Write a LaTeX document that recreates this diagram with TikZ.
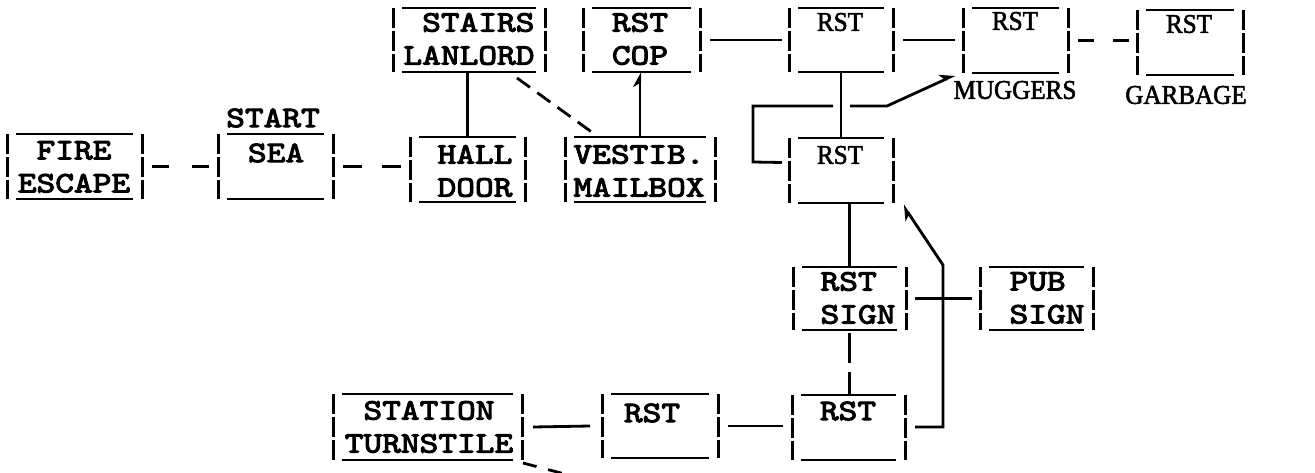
\documentclass[tikz,border=0pt]{standalone}
\usepackage{fontspec}
\newfontfamily\tw[FakeStretch=1.2,FakeBold=3.5]{lmmono10-regular.otf}
\newfontfamily\srf[FakeStretch=0.93,FakeBold=2]{Liberation Serif}
\usetikzlibrary{arrows.meta}
\newcommand\tbox[5]{\node[frame, minimum width={(#3-#2)*1pt}, minimum height={(#5-#4)*1pt}] (#1) at ({(#2+#3)/2},{(#4+#5)/2}) {};}
\begin{document}
\begin{tikzpicture}[x=1pt,y=-1pt,
  frame/.style={inner sep=0pt, outer sep=0pt, draw=none},
  hline/.style={line width=2.8pt},
  vbar/.style={line width=3pt, dash pattern=on 19.5pt off 3.5pt},
  conn/.style={line width=2.8pt},
  dconn/.style={line width=2.8pt, dash pattern=on 17pt off 23pt},
  tt/.style={font=\tw\fontsize{29.7}{33}\selectfont, inner sep=0pt},
  sf/.style={font=\srf\fontsize{27}{31}\selectfont, inner sep=0pt},
  barb/.style={-{Stealth[harpoon,length=13pt,width=14pt,inset=4pt]}},
  rbarb/.style={{Stealth[harpoon,length=13pt,width=14pt,inset=4pt]}-}
]
\useasboundingbox (0,0) rectangle (1315,472);

% boxes
\tbox{fire}{7}{142}{134}{199}
\tbox{sea}{218}{333}{134}{199}
\tbox{hall}{410}{525}{137}{202}
\tbox{vest}{565}{715}{137}{202}
\tbox{stairs}{393}{545}{8}{72}
\tbox{cop}{583}{700}{8}{72}
\tbox{rsta}{789}{893}{8}{72}
\tbox{mug}{963}{1068}{8}{73}
\tbox{garb}{1137}{1243}{10}{75}
\tbox{rstb}{789}{893}{138}{203}
\tbox{sign}{793}{906}{267}{330}
\tbox{pub}{980}{1093}{267}{330}
\tbox{rstc}{792}{905}{395}{460}
\tbox{rstm}{602}{718}{394}{458}
\tbox{stat}{333}{522}{394}{460}

\foreach \n in {fire,sea,hall,vest,stairs,cop,rsta,mug,garb,rstb,sign,pub,rstc,rstm,stat}{
  \draw[hline] ([xshift=9pt]\n.north west) -- ([xshift=-9pt]\n.north east);
  \draw[hline] ([xshift=9pt]\n.south west) -- ([xshift=-9pt]\n.south east);
  \draw[vbar] (\n.north west) -- (\n.south west);
  \draw[vbar] (\n.north east) -- (\n.south east);
}

% texts
\node[tt,align=center] (fire-t) at (74,167) {FIRE\\ESCAPE};
\node[tt] (sea-s) at (273,118) {START};
\node[tt] (sea-t) at (276,153) {SEA};
\node[tt,align=center] (hall-t) at (475,171) {HALL\\DOOR};
\node[tt,align=right] (stairs-t) at (469,39) {STAIRS\\LANLORD};
\node[tt,align=left] (vest-t) at (639,171) {VESTIB.\\MAILBOX};
\node[tt,align=left] (cop-t) at (640,39) {RST\\COP};
\node[sf] (rsta-t) at (840,22) {RST};
\node[sf] (mug-t) at (1015,21) {RST};
\node[sf] (mug-l) at (1015,90) {MUGGERS};
\node[sf] (garb-t) at (1189,24) {RST};
\node[sf] (garb-l) at (1186,95) {GARBAGE};
\node[sf] (rstb-t) at (840,155) {RST};
\node[tt,align=left] (sign-t) at (858,298) {RST\\SIGN};
\node[tt,align=left] (pub-t) at (1047,298) {PUB\\SIGN};
\node[tt] (rstc-t) at (848,411) {RST};
\node[tt] (rstm-t) at (652,413) {RST};
\node[tt,align=center] (stat-t) at (429,427) {STATION\\TURNSTILE};

% connectors
\draw[dconn] ([xshift=10pt]fire.east) -- ([xshift=-8pt]sea.west);
\draw[dconn, dash pattern=on 19pt off 20pt] ([xshift=10pt]sea.east) -- ([xshift=-8pt]sea.east -| hall.west);
\draw[conn] (hall.north) -- (hall.north |- stairs.south);
\draw[conn, dash pattern=on 16pt off 9pt] ([xshift=-28pt,yshift=-6pt]stairs.south east) -- ([xshift=28pt,yshift=4pt]vest.north west);
\draw[conn,barb] (vest.north) -- (vest.north |- cop.south);
\draw[conn] ([xshift=10pt]cop.east) -- ([xshift=-7pt]rsta.west);
\draw[conn] ([xshift=10pt]rsta.east) -- ([xshift=-8pt]rsta.east -| mug.west);
\draw[dconn, dash pattern=on 16pt off 19pt] ([xshift=10pt]mug.east) -- ([xshift=-7pt]mug.east -| garb.west);
\draw[conn] (rsta.south) -- (rstb.north);

\coordinate (lp1) at (753,162);
\coordinate (lp2) at (753,106);
\coordinate (lp3) at (833,106);
\coordinate (lp4) at (850,106);
\coordinate (lp5) at (887,106);
\draw[conn] ([xshift=-7pt,yshift=8pt]rstb.west) -- (lp1) -- (lp2) -- (lp3);
\draw[conn,barb] (lp4) -- (lp5) -- ([xshift=-8pt,yshift=-2pt]mug.south west);

\coordinate (rp1) at (943,265);
\coordinate (rp2) at (943,427);
\draw[conn,rbarb] ([xshift=10pt,yshift=-2pt]rstb.south east) -- (rp1) -- (rp2) -- ([xshift=10pt]rstc.east |- rp2);

\draw[conn] ([xshift=9pt]sign.east) -- ([xshift=-8pt]pub.west);
\draw[conn] (sign.north) -- (sign.north |- rstb.south);
\draw[conn, dash pattern=on 30pt off 9pt] ([yshift=-3pt]sign.south) -- (sign.south |- rstc.north);

\draw[conn] ([xshift=11pt]stat.east) -- ([xshift=-12pt]rstm.west);
\draw[conn] ([xshift=10pt]rstm.east) -- ([xshift=-9pt]rstm.east -| rstc.west);
\coordinate (exit) at (580,478);
\draw[conn, dash pattern=on 14pt off 12pt] ([xshift=1pt,yshift=-3pt]stat.south east) -- (exit);
\end{tikzpicture}
\end{document}
